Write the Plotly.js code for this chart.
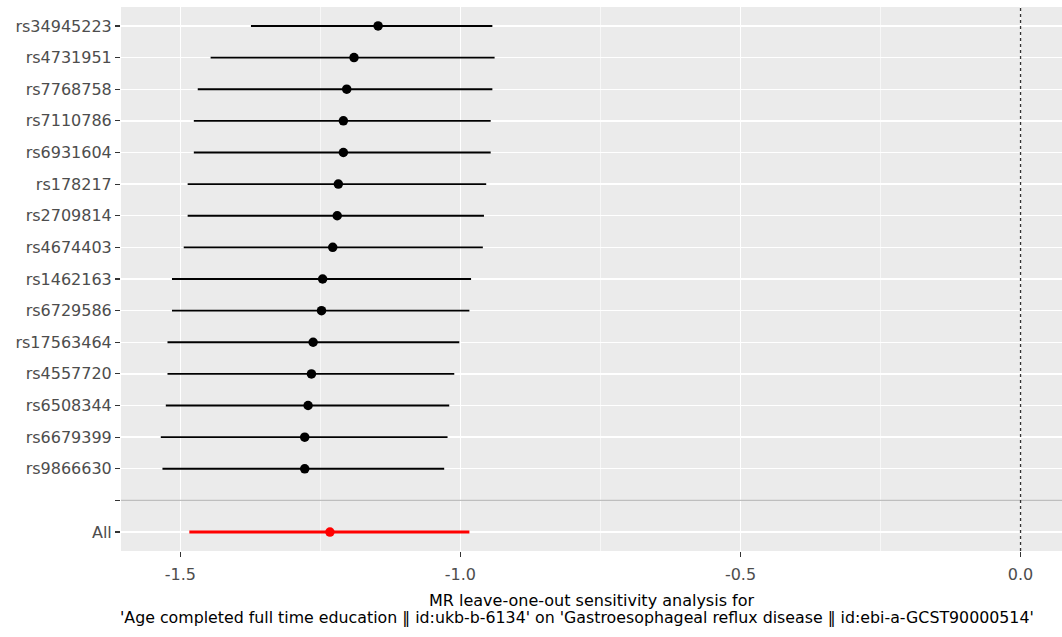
<!DOCTYPE html>
<html>
<head>
<meta charset="utf-8">
<script src="https://cdn.plot.ly/plotly-3.0.1.min.js"></script>
<style>html,body{margin:0;padding:0;background:#fff;}#chart{width:1062px;height:637px;}</style>
</head>
<body>
<div id="chart"></div>
<script>
// Categories, top to bottom
var snps = ["rs34945223","rs4731951","rs7768758","rs7110786","rs6931604","rs178217","rs2709814","rs4674403","rs1462163","rs6729586","rs17563464","rs4557720","rs6508344","rs6679399","rs9866630"];
var snpB  = [-1.147,-1.190,-1.203,-1.209,-1.209,-1.218,-1.220,-1.228,-1.246,-1.248,-1.263,-1.266,-1.272,-1.278,-1.278];
var snpLo = [-1.374,-1.446,-1.469,-1.476,-1.476,-1.487,-1.487,-1.494,-1.515,-1.515,-1.523,-1.523,-1.526,-1.535,-1.532];
var snpHi = [-0.943,-0.939,-0.943,-0.946,-0.946,-0.954,-0.958,-0.960,-0.981,-0.984,-1.002,-1.011,-1.020,-1.023,-1.029];
var allLabel = "All";
var allB = -1.233, allLo = -1.484, allHi = -0.984;
var yLabels = snps.concat(["", allLabel]);
var xTicks = [-1.5, -1.0, -0.5, 0.0];
var xTickText = ["-1.5", "-1.0", "-0.5", "0.0"];
var titleLines = ["MR leave-one-out sensitivity analysis for",
  "'Age completed full time education \u2016 id:ukb-b-6134' on 'Gastroesophageal reflux disease \u2016 id:ebi-a-GCST90000514'"];

var yIdx = yLabels.map(function(_, i){ return i; });
var snpY = snps.map(function(_, i){ return i; });
var allY = yLabels.indexOf(allLabel);
var blankY = yLabels.indexOf("");

var traces = [
  {
    type: "scatter", mode: "markers",
    x: snpB, y: snpY,
    marker: {color: "black", size: 9.5},
    error_x: {type: "data", symmetric: false,
      array: snpHi.map(function(h, i){ return h - snpB[i]; }),
      arrayminus: snpLo.map(function(l, i){ return snpB[i] - l; }),
      width: 0, thickness: 1.8, color: "black"},
    hoverinfo: "x+y"
  },
  {
    type: "scatter", mode: "markers",
    x: [allB], y: [allY],
    marker: {color: "#ff0000", size: 9.5},
    error_x: {type: "data", symmetric: false,
      array: [allHi - allB], arrayminus: [allB - allLo],
      width: 0, thickness: 3.2, color: "#ff0000"},
    hoverinfo: "x+y"
  }
];

var font = "DejaVu Sans, Liberation Sans, Arial, sans-serif";
var panelTop = 7, panelBottom = 551;
var panelH = panelBottom - panelTop;
var layout = {
  width: 1062, height: 637,
  margin: {l: 121, r: 0, t: panelTop, b: 637 - panelBottom},
  paper_bgcolor: "#ffffff",
  plot_bgcolor: "#ebebeb",
  showlegend: false,
  font: {family: font, color: "#4d4d4d"},
  xaxis: {
    range: [-1.606, 0.074],
    tickvals: xTicks, ticktext: xTickText,
    ticks: "outside", ticklen: 5, tickwidth: 1.2, tickcolor: "#333333",
    ticklabelstandoff: 4,
    tickfont: {size: 16, color: "#4d4d4d", family: font},
    showgrid: true, gridcolor: "#ffffff", gridwidth: 1.3,
    minor: {dtick: 0.25, tick0: 0, showgrid: true, gridcolor: "#ffffff", gridwidth: 0.6, ticks: ""},
    zeroline: false, showline: false
  },
  yaxis: {
    range: [yLabels.length - 0.4, -0.6],
    tickvals: yIdx, ticktext: yLabels,
    ticks: "outside", ticklen: 5, tickwidth: 1.2, tickcolor: "#333333",
    tickfont: {size: 16, color: "#4d4d4d", family: font},
    showgrid: true, gridcolor: "#ffffff", gridwidth: 1.3,
    zeroline: false, showline: false
  },
  annotations: [
    {text: titleLines[0], xref: "paper", yref: "paper", x: 0.5, y: -(600 - panelBottom) / panelH,
     xanchor: "center", yanchor: "middle", showarrow: false,
     font: {size: 16, color: "#000000", family: font}},
    {text: titleLines[1], xref: "paper", yref: "paper", x: 0.485, y: -(617 - panelBottom) / panelH,
     xanchor: "center", yanchor: "middle", showarrow: false,
     font: {size: 15.8, color: "#000000", family: font}}
  ],
  shapes: [
    {type: "line", xref: "paper", yref: "y", x0: 0, x1: 1, y0: blankY, y1: blankY,
     line: {color: "#bebebe", width: 1.2}, layer: "above"},
    {type: "line", xref: "x", yref: "paper", x0: 0, x1: 0, y0: 0, y1: 1,
     line: {color: "#333333", width: 1.3, dash: "dot"}, layer: "above"}
  ]
};

Plotly.newPlot("chart", traces, layout, {displayModeBar: false, staticPlot: true});
</script>
</body>
</html>
